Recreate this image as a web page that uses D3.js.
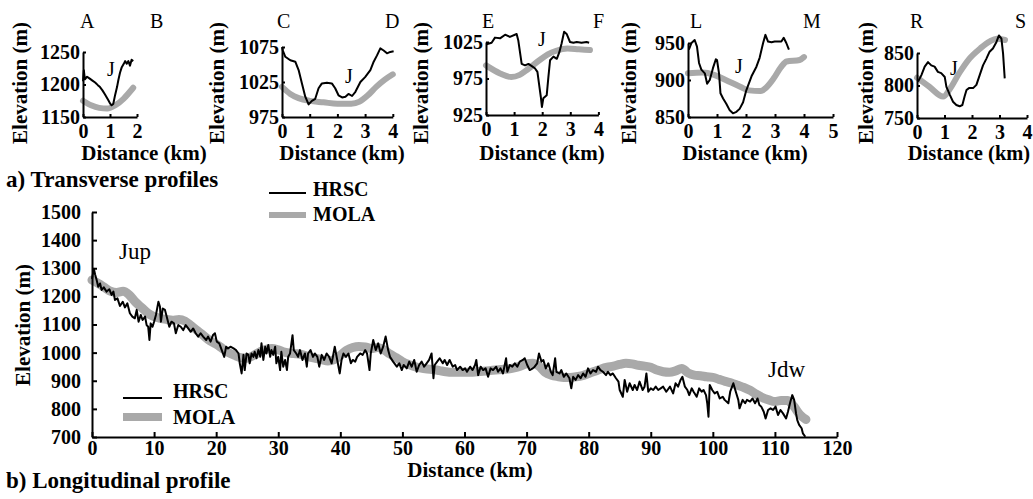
<!DOCTYPE html>
<html>
<head>
<meta charset="utf-8">
<script src="https://cdn.jsdelivr.net/npm/d3@7"></script>
<style>
  body { margin: 0; background: #fff; }
  svg text { font-family: "Liberation Serif", "Times New Roman", serif; fill: #000; }
</style>
</head>
<body>
<svg id="chart" width="1033" height="499"></svg>
<script>
// ---- data (km, elevation m) ----
const hrscAB = [[0,1205],[0.03,1222],[0.07,1208],[0.15,1212],[0.25,1209],[0.35,1206],[0.45,1203],[0.55,1199],[0.63,1196],[0.72,1191],[0.81,1185],[0.88,1180],[0.95,1175],[1.0,1171],[1.06,1168],[1.12,1170],[1.19,1184],[1.26,1196],[1.31,1207],[1.37,1218],[1.43,1226],[1.5,1231],[1.56,1236],[1.62,1232],[1.68,1236],[1.74,1229],[1.8,1238],[1.86,1236]];
const molaAB = [[0,1175],[0.3,1168],[0.6,1164],[0.9,1163],[1.2,1168],[1.5,1178],[1.86,1195]];

const hrscCD = [[0,1075],[0.03,1070],[0.12,1061],[0.3,1056],[0.48,1054],[0.6,1042],[0.72,1023],[0.84,1004],[0.96,993],[1.08,998],[1.2,1001],[1.32,1016],[1.44,1023],[1.62,1024],[1.8,1023],[1.92,1016],[2.04,1006],[2.17,1003],[2.29,1004],[2.4,1008],[2.53,1005],[2.65,1011],[2.83,1025],[3.0,1032],[3.19,1042],[3.31,1054],[3.43,1063],[3.55,1073],[3.67,1070],[3.79,1066],[3.91,1068],[4.03,1069]];
const molaCD = [[0,1018],[0.3,1008],[0.6,1002],[1.0,998],[1.5,996],[2.0,994],[2.5,994],[2.8,997],[3.1,1006],[3.4,1018],[3.7,1028],[4.0,1036]];

const hrscEF = [[0.02,1022],[0.2,1024],[0.32,1031],[0.5,1030],[0.68,1035],[0.85,1032],[1.09,1036],[1.15,1027],[1.27,995],[1.39,993],[1.51,995],[1.63,992],[1.74,989],[1.83,984],[1.9,964],[1.95,950],[1.99,936],[2.04,948],[2.1,950],[2.16,952],[2.22,977],[2.28,1000],[2.4,1005],[2.52,1002],[2.61,1011],[2.69,1023],[2.78,1039],[2.87,1036],[2.99,1025],[3.11,1024],[3.23,1025],[3.4,1024],[3.58,1025],[3.67,1024]];
const molaEF = [[0,993],[0.5,982],[0.9,977],[1.2,980],[1.5,988],[1.9,1000],[2.2,1008],[2.5,1013],[2.9,1016],[3.3,1015],[3.7,1014]];

const hrscLM = [[0.03,941],[0.12,950],[0.23,954],[0.31,945],[0.38,923],[0.46,914],[0.58,909],[0.66,895],[0.75,900],[0.86,916],[0.96,928],[1.0,927],[1.07,909],[1.12,882],[1.21,875],[1.32,868],[1.44,859],[1.55,855],[1.67,857],[1.78,861],[1.9,870],[2.01,886],[2.19,905],[2.36,918],[2.47,930],[2.59,950],[2.67,961],[2.76,952],[2.88,951],[2.99,952],[3.1,952],[3.22,952],[3.3,957],[3.39,950],[3.48,941]];
const molaLM = [[0,909],[0.5,910],[0.9,907],[1.3,900],[1.8,891],[2.1,886],[2.5,885],[2.7,890],[2.95,902],[3.2,917],[3.4,925],[3.85,927],[4.0,931]];

const hrscRS = [[0.04,806],[0.16,816],[0.28,829],[0.4,836],[0.52,831],[0.64,829],[0.76,821],[0.88,819],[1.01,813],[1.07,798],[1.19,786],[1.31,775],[1.43,770],[1.55,768],[1.65,770],[1.73,783],[1.8,793],[1.89,796],[2.04,796],[2.16,801],[2.28,816],[2.4,831],[2.52,841],[2.64,852],[2.76,857],[2.89,867],[2.98,877],[3.07,872],[3.13,849],[3.19,811]];
const molaRS = [[0,812],[0.45,798],[0.95,783],[1.2,795],[1.55,820],[1.9,841],[2.3,857],[2.65,868],[2.9,872],[3.2,870]];

const hrscLong = [[0,1262],[0.3,1298],[0.5,1278],[0.75,1258],[1.0,1234],[1.3,1246],[1.55,1223],[1.9,1232],[2.35,1217],[2.8,1225],[3.15,1205],[3.45,1217],[3.7,1187],[4.1,1193],[4.5,1166],[4.95,1181],[5.3,1161],[5.7,1175],[6.1,1140],[6.5,1128],[6.9,1122],[7.2,1152],[7.5,1110],[7.85,1134],[8.15,1116],[8.55,1128],[8.8,1098],[9.05,1092],[9.25,1045],[9.45,1104],[9.75,1092],[10.0,1110],[10.3,1134],[10.7,1181],[10.95,1163],[11.1,1110],[11.4,1157],[11.75,1152],[12.1,1122],[12.45,1092],[12.8,1110],[13.2,1104],[13.5,1069],[13.9,1098],[14.3,1092],[14.7,1080],[15.1,1098],[15.5,1086],[15.9,1074],[16.3,1086],[16.7,1069],[17.1,1057],[17.5,1069],[17.9,1057],[18.4,1045],[18.7,1057],[19.1,1039],[19.5,1063],[19.8,1069],[20.1,1039],[20.5,1033],[20.9,1009],[21.3,985],[21.6,1021],[21.9,1015],[22.3,1021],[22.8,1015],[23.2,1009],[23.6,997],[23.8,962],[24.1,926],[24.4,992],[24.6,938],[24.9,997],[25.2,992],[25.4,962],[25.7,997],[26.0,985],[26.2,1003],[26.5,980],[26.8,1009],[27.1,985],[27.3,1033],[27.6,974],[27.9,1021],[28.1,997],[28.4,1027],[28.7,985],[28.9,1009],[29.2,992],[29.5,1021],[29.7,962],[30.0,985],[30.3,938],[30.5,1003],[30.8,950],[31.1,974],[31.4,938],[31.6,985],[31.9,997],[32.3,1062],[32.5,1009],[32.9,997],[33.2,985],[33.5,1009],[33.9,974],[34.3,997],[34.6,950],[34.8,997],[35.2,1009],[35.6,985],[35.9,997],[36.3,985],[36.6,950],[37.0,992],[37.4,974],[37.8,997],[38.2,985],[38.6,962],[38.9,997],[39.1,1021],[39.5,974],[39.9,926],[40.2,974],[40.5,997],[40.9,985],[41.3,997],[41.7,962],[42.0,974],[42.4,968],[42.7,985],[43.2,997],[43.6,992],[44.0,1009],[44.3,997],[44.7,938],[44.9,997],[45.3,1045],[45.7,1009],[46.1,1033],[46.5,997],[46.9,1021],[47.3,1057],[47.7,1009],[48.0,985],[48.5,968],[49.1,950],[49.5,962],[49.9,938],[50.2,956],[50.7,944],[51.1,968],[51.5,950],[51.9,974],[52.3,932],[52.7,956],[53.1,968],[53.5,950],[53.9,962],[54.3,974],[54.7,997],[55.0,909],[55.2,956],[55.6,968],[56.0,980],[56.5,962],[56.8,974],[57.2,956],[57.6,974],[58.1,950],[58.5,956],[58.8,938],[59.3,950],[59.7,938],[60.1,944],[60.4,932],[60.9,950],[61.3,938],[61.7,956],[61.9,974],[62.2,920],[62.6,950],[63.0,938],[63.4,944],[63.8,914],[64.2,944],[64.6,938],[65.1,950],[65.4,932],[65.8,944],[66.2,926],[66.7,980],[66.9,932],[67.3,956],[67.7,950],[68.1,962],[68.5,950],[68.9,968],[69.4,974],[69.7,980],[70.1,956],[70.5,938],[71.0,944],[71.3,950],[71.7,962],[72.0,997],[72.4,968],[72.7,974],[73.1,944],[73.5,962],[73.9,932],[74.2,920],[74.6,980],[74.8,932],[75.3,926],[75.6,938],[76.0,914],[76.4,926],[76.9,909],[77.2,873],[77.5,914],[77.9,903],[78.3,920],[78.7,909],[79.1,926],[79.5,914],[79.9,944],[80.3,926],[80.7,938],[81.2,932],[81.5,950],[81.9,938],[82.3,932],[82.8,920],[83.1,932],[83.5,920],[83.9,926],[84.4,909],[84.8,897],[85.0,867],[85.5,843],[85.8,903],[86.2,861],[86.6,891],[87.1,867],[87.4,885],[87.8,867],[88.2,897],[88.7,867],[89.0,879],[89.3,926],[89.6,861],[90.0,873],[90.4,867],[90.8,879],[91.2,867],[91.6,873],[92.0,879],[92.5,861],[93.1,879],[93.6,855],[94.0,891],[94.4,879],[94.8,903],[95.1,914],[95.5,879],[95.9,867],[96.2,849],[96.6,873],[96.9,861],[97.4,843],[97.8,873],[98.2,861],[98.5,867],[98.9,849],[99.1,820],[99.3,772],[99.5,885],[99.9,867],[100.3,855],[100.7,861],[101.1,837],[101.6,843],[101.9,832],[102.5,820],[102.8,861],[103.3,891],[103.7,861],[104.1,832],[104.3,802],[104.8,832],[105.2,820],[105.5,832],[106.0,826],[106.4,837],[106.8,820],[107.2,837],[107.5,814],[107.8,808],[108.2,790],[108.5,766],[108.9,796],[109.3,802],[109.7,796],[110.1,808],[110.5,778],[110.9,796],[111.3,784],[111.8,766],[112.1,790],[112.5,826],[112.8,849],[113.1,832],[113.4,784],[113.6,760],[113.9,743],[114.3,731],[114.5,713],[114.9,701]];
const molaLong = [[0,1258],[1,1246],[2,1232],[3,1218],[4,1214],[5,1218],[6,1205],[7,1180],[8,1160],[9,1140],[10,1128],[11,1122],[12,1118],[13,1115],[14,1118],[15,1112],[16,1095],[17,1078],[18,1060],[19,1042],[20,1030],[21,1015],[22,1000],[23,990],[24,982],[25,980],[26,990],[27,1002],[28,1012],[29,1015],[30,1010],[31,1002],[32,998],[33,996],[34,992],[35,985],[36,980],[37,975],[38,970],[39,975],[40,990],[41,1008],[42,1018],[43,1022],[44,1020],[45,1015],[46,1018],[47,1010],[48,995],[49,982],[50,968],[51,958],[52,950],[53,945],[54,942],[55,940],[56,936],[57,932],[58,930],[59,930],[60,930],[61,930],[62,932],[63,934],[64,936],[65,938],[66,940],[67,942],[68,946],[69,952],[70,960],[71,962],[72,952],[73,930],[74,920],[75,915],[76,912],[77,912],[78,914],[79,918],[80,926],[81,934],[82,942],[83,948],[84,952],[85,958],[86,962],[87,960],[88,955],[89,952],[90,948],[91,938],[92,932],[93,930],[94,935],[95,944],[96,928],[97,920],[98,918],[99,914],[100,912],[101,905],[102,898],[103,892],[104,884],[105,876],[106,866],[107,852],[108,840],[109,832],[110,826],[111,830],[112,830],[113,810],[114,780],[115,762]];

const panelEnds = [["A","B"],["C","D"],["E","F"],["L","M"],["R","S"]];
const panelXMax = [2, 4, 4, 5, 4];
const panelYTicks = [[1150,1200,1250],[975,1025,1075],[925,975,1025],[850,900,950],[750,800,850]];
const longXTicks = d3.range(0, 121, 10);
const longYTicks = d3.range(700, 1501, 100);
const seriesNames = ["HRSC", "MOLA"];

// ---- layout (pixels) ----
const panelBox = [
  { x0: 83,  pxKm: 27,   yTop: 52, yBot: 117, yTitleX: 27,  xTitleC: 144, endA: 80,  endB: 150,  jx: 107, jy: 76 },
  { x0: 282, pxKm: 27.7, yTop: 47, yBot: 117, yTitleX: 224, xTitleC: 342, endA: 277, endB: 385,  jx: 345, jy: 83 },
  { x0: 486, pxKm: 28.1, yTop: 42, yBot: 115, yTitleX: 428, xTitleC: 542, endA: 482, endB: 593,  jx: 538, jy: 46 },
  { x0: 688, pxKm: 29,   yTop: 43, yBot: 117, yTitleX: 636, xTitleC: 745, endA: 690, endB: 803,  jx: 735, jy: 73 },
  { x0: 917, pxKm: 27.5, yTop: 53, yBot: 118, yTitleX: 873, xTitleC: 969, endA: 910, endB: 1015, jx: 950, jy: 75 }
];
const panelData = [[hrscAB, molaAB], [hrscCD, molaCD], [hrscEF, molaEF], [hrscLM, molaLM], [hrscRS, molaRS]];

const svg = d3.select("#chart");
const molaColor = "#a9a9a9";

function styleAxis(g, size) {
  g.attr("font-family", null).attr("font-size", null);
  g.select(".domain").attr("stroke-width", 2).attr("stroke", "#000");
  g.selectAll(".tick line").attr("stroke-width", 2).attr("stroke", "#000");
  g.selectAll(".tick text").attr("font-size", size).attr("font-weight", "bold");
}

// ---- a) transverse profiles ----
panelBox.forEach(function (b, i) {
  const x = d3.scaleLinear().domain([0, panelXMax[i]]).range([b.x0, b.x0 + panelXMax[i] * b.pxKm]);
  const yt = panelYTicks[i];
  const y = d3.scaleLinear().domain([yt[0], yt[yt.length - 1]]).range([b.yBot, b.yTop]);
  const g = svg.append("g");

  const line = d3.line().x(d => x(d[0])).y(d => y(d[1]));
  const smooth = d3.line().x(d => x(d[0])).y(d => y(d[1])).curve(d3.curveMonotoneX);

  g.append("path").datum(panelData[i][1])
    .attr("fill", "none").attr("stroke", molaColor).attr("stroke-width", 6)
    .attr("stroke-linecap", "round").attr("d", smooth);
  g.append("path").datum(panelData[i][0])
    .attr("fill", "none").attr("stroke", "#000").attr("stroke-width", 2)
    .attr("stroke-linejoin", "round").attr("d", line);

  g.append("g").attr("transform", "translate(0," + b.yBot + ")")
    .call(d3.axisBottom(x).tickValues(d3.range(0, panelXMax[i] + 1)).tickFormat(d3.format("d"))
      .tickSize(-3).tickSizeOuter(0).tickPadding(7))
    .call(styleAxis, 20);
  g.append("g").attr("transform", "translate(" + b.x0 + ",0)")
    .call(d3.axisLeft(y).tickValues(yt).tickFormat(d3.format("d"))
      .tickSize(-3).tickSizeOuter(0).tickPadding(3))
    .call(styleAxis, 20);

  g.append("text").attr("x", b.endA).attr("y", 28).attr("font-size", 20).text(panelEnds[i][0]);
  g.append("text").attr("x", b.endB).attr("y", 28).attr("font-size", 20).text(panelEnds[i][1]);
  g.append("text").attr("x", b.jx).attr("y", b.jy).attr("font-size", 20).text("J");

  g.append("text").attr("x", b.xTitleC).attr("y", 160).attr("text-anchor", "middle")
    .attr("font-size", i === 4 ? 20.5 : 21).attr("font-weight", "bold").text("Distance (km)");
  g.append("text").attr("transform", "translate(" + b.yTitleX + ",83) rotate(-90)")
    .attr("text-anchor", "middle").attr("font-size", 21).attr("font-weight", "bold").text("Elevation (m)");
});

svg.append("text").attr("x", 6).attr("y", 187).attr("font-size", 23).attr("font-weight", "bold")
  .text("a) Transverse profiles");

// legend a)
svg.append("line").attr("x1", 269).attr("x2", 306).attr("y1", 193).attr("y2", 193)
  .attr("stroke", "#000").attr("stroke-width", 2);
svg.append("line").attr("x1", 269).attr("x2", 306).attr("y1", 215).attr("y2", 215)
  .attr("stroke", molaColor).attr("stroke-width", 6);
svg.append("text").attr("x", 313).attr("y", 196).attr("font-size", 20).attr("font-weight", "bold").text(seriesNames[0]);
svg.append("text").attr("x", 313).attr("y", 221).attr("font-size", 20).attr("font-weight", "bold").text(seriesNames[1]);

// ---- b) longitudinal profile ----
const lx = d3.scaleLinear().domain([0, 120]).range([92, 837]);
const ly = d3.scaleLinear().domain([700, 1500]).range([437, 212]);
const lg = svg.append("g");

lg.append("path").datum(molaLong)
  .attr("fill", "none").attr("stroke", molaColor).attr("stroke-width", 9)
  .attr("stroke-linecap", "round").attr("stroke-linejoin", "round")
  .attr("d", d3.line().x(d => lx(d[0])).y(d => ly(d[1])).curve(d3.curveMonotoneX));
lg.append("path").datum(hrscLong)
  .attr("fill", "none").attr("stroke", "#000").attr("stroke-width", 2)
  .attr("stroke-linejoin", "round")
  .attr("d", d3.line().x(d => lx(d[0])).y(d => ly(d[1])));

lg.append("g").attr("transform", "translate(0,437)")
  .call(d3.axisBottom(lx).tickValues(longXTicks).tickFormat(d3.format("d"))
    .tickSize(-5).tickSizeOuter(0).tickPadding(4))
  .call(styleAxis, 20);
lg.append("g").attr("transform", "translate(92,0)")
  .call(d3.axisLeft(ly).tickValues(longYTicks).tickFormat(d3.format("d"))
    .tickSize(-5).tickSizeOuter(0).tickPadding(11))
  .call(styleAxis, 20);

lg.append("text").attr("x", 470).attr("y", 477).attr("text-anchor", "middle")
  .attr("font-size", 21).attr("font-weight", "bold").text("Distance (km)");
lg.append("text").attr("transform", "translate(30,325) rotate(-90)").attr("text-anchor", "middle")
  .attr("font-size", 21).attr("font-weight", "bold").text("Elevation (m)");

lg.append("text").attr("x", 119).attr("y", 259).attr("font-size", 23).text("Jup");
lg.append("text").attr("x", 768).attr("y", 377).attr("font-size", 23).text("Jdw");

// legend b)
lg.append("line").attr("x1", 123).attr("x2", 162).attr("y1", 398).attr("y2", 398)
  .attr("stroke", "#000").attr("stroke-width", 2);
lg.append("line").attr("x1", 123).attr("x2", 162).attr("y1", 417).attr("y2", 417)
  .attr("stroke", molaColor).attr("stroke-width", 8);
lg.append("text").attr("x", 173).attr("y", 398).attr("font-size", 20).attr("font-weight", "bold").text(seriesNames[0]);
lg.append("text").attr("x", 173).attr("y", 424).attr("font-size", 20).attr("font-weight", "bold").text(seriesNames[1]);

svg.append("text").attr("x", 6).attr("y", 488).attr("font-size", 23).attr("font-weight", "bold")
  .text("b) Longitudinal profile");
</script>
</body>
</html>
